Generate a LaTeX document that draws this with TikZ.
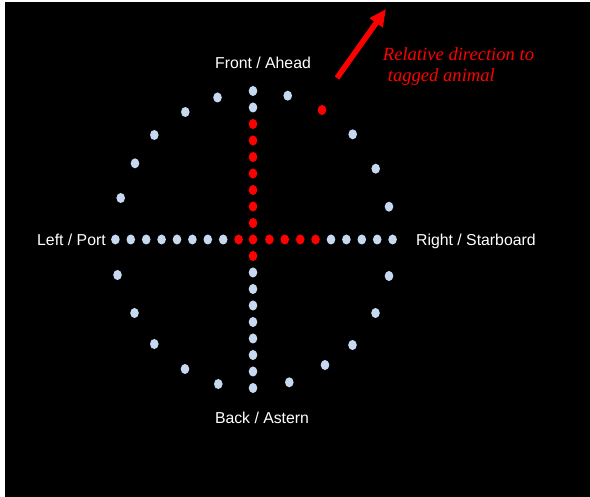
\documentclass[tikz,border=0pt]{standalone}
\usepackage{fontspec}
\setmainfont{Liberation Sans}
\newfontfamily\serifit{Liberation Serif}
\usetikzlibrary{arrows.meta}
\definecolor{dotblue}{HTML}{C6D9F1}
\definecolor{dotred}{HTML}{FF0000}
\tikzset{
  bdot/.style={ellipse, fill=dotblue, inner sep=0pt, minimum width=8.6pt, minimum height=10pt},
  rdot/.style={ellipse, fill=dotred, inner sep=0pt, minimum width=8.6pt, minimum height=10pt},
  lbl/.style={text=white, font=\fontsize{15.8}{18}\selectfont, inner sep=0pt},
  redlbl/.style={text=dotred, font=\serifit\itshape\fontsize{18.6}{22}\selectfont, inner sep=0pt, anchor=base west},
  dirarrow/.style={draw=dotred, line width=5.5pt, -{Triangle[length=17pt,width=15pt]}}
}
\usetikzlibrary{shapes.geometric}
\begin{document}
\begin{tikzpicture}[x=1pt,y=-1pt]
\useasboundingbox (0,0) rectangle (590,497);
\fill[white] (0,0) rectangle (590,497);
\fill[black] (5,2) rectangle (590,497);
% vertical line of dots
\foreach \i in {-9,...,9} {
  \pgfmathsetmacro{\yy}{239.5+16.5*\i}
  \ifnum\i<-7 \node[bdot] (v\i) at (253,\yy) {};
  \else\ifnum\i>1 \node[bdot] (v\i) at (253,\yy) {};
  \else \node[rdot] (v\i) at (253,\yy) {};
  \fi\fi
}
% horizontal line of dots
\foreach \i in {-9,...,9} {
  \ifnum\i=0 \else
  \pgfmathsetmacro{\xx}{254+15.4*\i}
  \ifnum\i<-1 \node[bdot] (h\i) at (\xx,239.5) {};
  \else\ifnum\i>4 \node[bdot] (h\i) at (\xx,239.5) {};
  \else \node[rdot] (h\i) at (\xx,239.5) {};
  \fi\fi
  \fi
}
% ring of dots
\node[bdot] (c1) at (217.5,97.5) {};
\node[bdot] (c2) at (287.7,95.7) {};
\node[rdot] (c3) at (322,110) {};
\node[bdot] (c4) at (352.7,134.3) {};
\node[bdot] (c5) at (375.7,168.7) {};
\node[bdot] (c6) at (389,206.7) {};
\node[bdot] (c7) at (389,276) {};
\node[bdot] (c8) at (375.5,313) {};
\node[bdot] (c9) at (352.5,345) {};
\node[bdot] (c10) at (325,365) {};
\node[bdot] (c11) at (289.3,382.3) {};
\node[bdot] (c12) at (218.3,384) {};
\node[bdot] (c13) at (185,369) {};
\node[bdot] (c14) at (154.3,344) {};
\node[bdot] (c15) at (134.5,313) {};
\node[bdot] (c16) at (117.5,275) {};
\node[bdot] (c17) at (120.7,198) {};
\node[bdot] (c18) at (135,163.3) {};
\node[bdot] (c19) at (154.3,135) {};
\node[bdot] (c20) at (185.3,112) {};
% labels
\node[lbl, anchor=base] (front) at (263,69) {Front / Ahead};
\node[lbl, anchor=base] (back) at (262,424) {Back / Astern};
\node[lbl, anchor=base west] (left) at (37,245.5) {Left / Port};
\node[lbl, anchor=base west] (right) at (416,246) {Right / Starboard};
\node[redlbl] (rel1) at (382.7,61) {Relative direction to};
\node[redlbl] (rel2) at (387.7,81.7) {tagged animal};
% arrow
\coordinate (atail) at (337,78);
\coordinate (ahead) at (386,9);
\draw[dirarrow] (atail) -- (ahead);
\end{tikzpicture}
\end{document}
